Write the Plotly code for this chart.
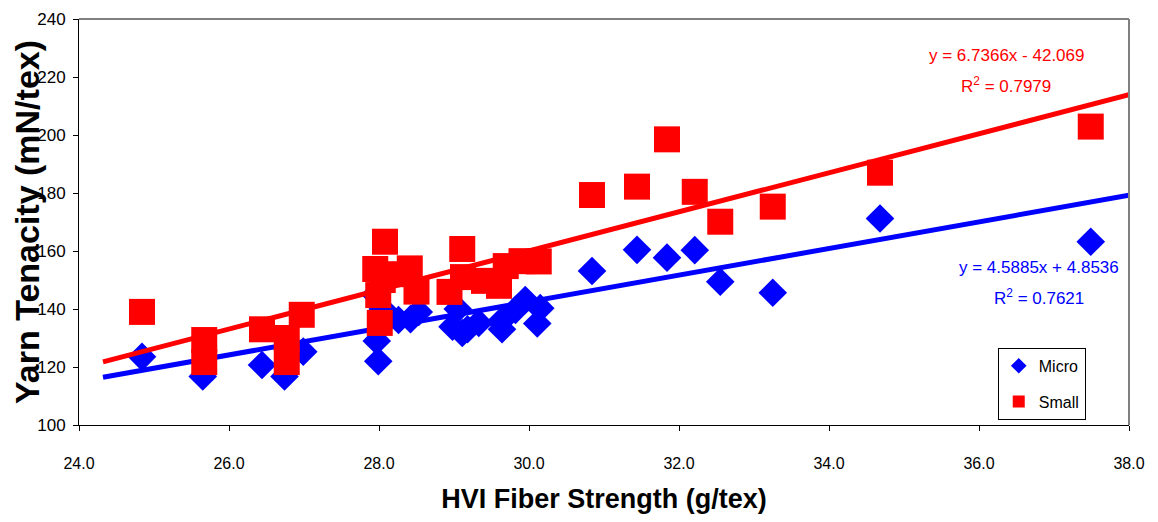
import plotly.graph_objects as go

# HVI fiber strength (g/tex) and yarn tenacity (mN/tex)
micro_x = [24.84, 25.65, 26.44, 26.74, 26.99, 27.95, 27.97, 27.99, 28.05, 28.26, 28.42, 28.53,
           28.98, 29.05, 29.11, 29.18, 29.33, 29.62, 29.64, 29.82, 29.95, 30.11, 30.15,
           30.84, 31.44, 31.84, 32.21, 32.55, 33.25, 34.68, 37.49]
micro_y = [123.5, 116.7, 120.7, 116.7, 125.3, 145.0, 129.0, 122.0, 140.0, 136.2, 136.5, 139.0,
           133.9, 140.0, 131.7, 133.0, 135.2, 135.6, 133.0, 139.7, 143.1, 135.0, 140.3,
           153.1, 160.4, 157.7, 160.3, 149.4, 145.6, 171.2, 163.2]

small_x = [24.84, 25.67, 25.67, 26.44, 26.77, 26.77, 26.97, 27.95, 27.99, 28.01, 28.05, 28.08,
           28.25, 28.41, 28.50, 28.94, 29.11, 29.12, 29.40, 29.60, 29.69, 29.90, 30.13,
           30.84, 31.44, 31.84, 32.21, 32.55, 33.25, 34.68, 37.49]
small_y = [139.0, 129.3, 121.7, 133.0, 130.0, 121.7, 138.0, 153.8, 144.8, 135.2, 150.0, 163.2,
           152.0, 154.0, 146.0, 145.9, 160.7, 151.0, 149.7, 148.0, 154.8, 156.5, 156.4,
           179.3, 182.2, 198.5, 180.4, 170.1, 175.3, 187.0, 202.9]

# Linear trendlines (coefficients as shown on the chart)
micro_fit = (4.5885, 4.8536)
small_fit = (6.7366, -42.069)
trend_x = [24.32, 38.0]

x_ticks = [24, 26, 28, 30, 32, 34, 36, 38]
y_ticks = [100, 120, 140, 160, 180, 200, 220, 240]

RED = "#FF0000"
BLUE = "#0000FF"
FONT = "Liberation Sans, Arial, sans-serif"

fig = go.Figure()

fig.add_trace(go.Scatter(
    x=micro_x, y=micro_y, mode="markers", name="Micro",
    marker=dict(symbol="diamond", size=22, color=BLUE, line=dict(width=0)),
    legendgroup="micro"))
fig.add_trace(go.Scatter(
    x=trend_x, y=[micro_fit[0] * v + micro_fit[1] for v in trend_x], mode="lines",
    line=dict(color=BLUE, width=5), showlegend=False, hoverinfo="skip"))
fig.add_trace(go.Scatter(
    x=trend_x, y=[small_fit[0] * v + small_fit[1] for v in trend_x], mode="lines",
    line=dict(color=RED, width=5), showlegend=False, hoverinfo="skip"))
fig.add_trace(go.Scatter(
    x=small_x, y=small_y, mode="markers", name="Small",
    marker=dict(symbol="square", size=26, color=RED, line=dict(width=0)),
    legendgroup="small"))

# the page body adds an 8px margin, so the figure is sized to compensate
fig.update_layout(
    width=1150, height=514,
    margin=dict(l=71, r=29, t=11, b=97),
    paper_bgcolor="white", plot_bgcolor="white",
    font=dict(family=FONT, color="black", size=16),
    legend=dict(
        x=0.875, y=0.19, xanchor="left", yanchor="top",
        bgcolor="white", bordercolor="black", borderwidth=1,
        font=dict(size=16, color="black"), itemsizing="constant",
        tracegroupgap=12, itemwidth=30),
    xaxis=dict(
        range=[24, 38], tickvals=x_ticks, tickformat=".1f", automargin=False,
        showgrid=False, zeroline=False, showline=True, linecolor="black", linewidth=1,
        ticks="outside", ticklen=5, tickcolor="black", ticklabelstandoff=19,
        tickfont=dict(size=16),
        title=dict(text="<b>HVI Fiber Strength (g/tex)</b>", font=dict(size=27), standoff=17)),
    yaxis=dict(
        range=[100, 240], tickvals=y_ticks, automargin=False,
        showgrid=False, zeroline=False, showline=True, linecolor="black", linewidth=1,
        ticks="outside", ticklen=5, tickcolor="black", ticklabelstandoff=4,
        tickfont=dict(size=17),
        title=dict(text="<b>Yarn Tenacity (mN/tex)</b>", font=dict(size=34), standoff=0)),
)

# grey frame on top and right
fig.add_shape(type="line", xref="paper", yref="paper", x0=0, x1=1, y0=1, y1=1,
              line=dict(color="#808080", width=2))
fig.add_shape(type="line", xref="paper", yref="paper", x0=1, x1=1, y0=0, y1=1,
              line=dict(color="#808080", width=2))

ann = [
    ("y = 6.7366x - 42.069", 0.883, 0.911, RED),
    ("R<sup>2</sup> = 0.7979", 0.883, 0.837, RED),
    ("y = 4.5885x + 4.8536", 0.914, 0.388, BLUE),
    ("R<sup>2</sup> = 0.7621", 0.914, 0.315, BLUE),
]
for text, ax, ay, col in ann:
    fig.add_annotation(text=text, x=ax, y=ay, xref="paper", yref="paper",
                       showarrow=False, font=dict(size=17, color=col, family=FONT),
                       xanchor="center", yanchor="middle")

fig.write_html("out.html")
